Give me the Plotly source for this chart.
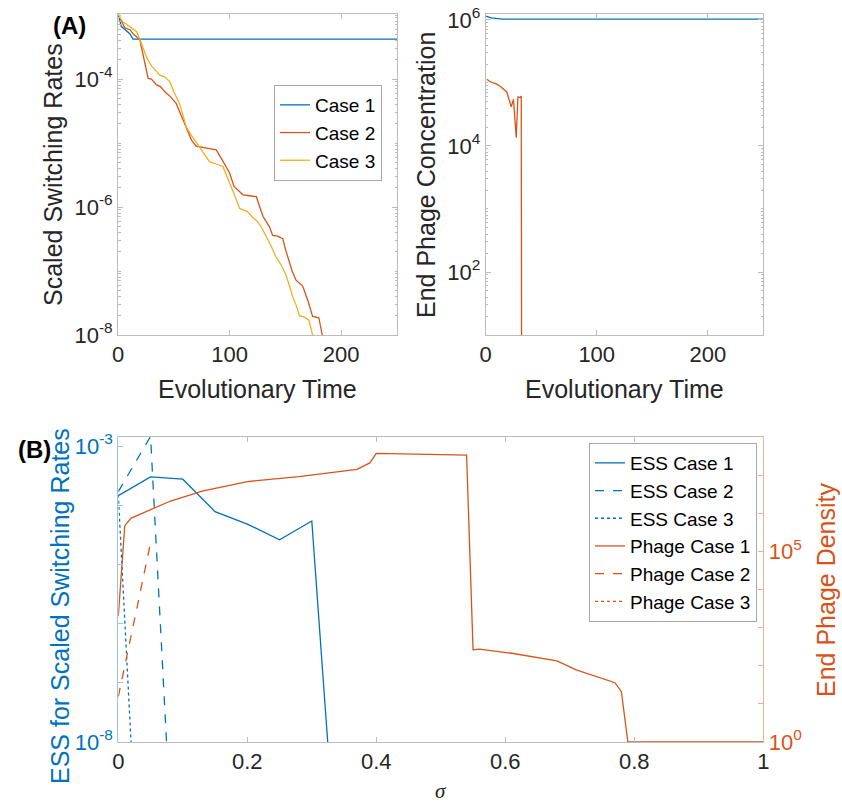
import plotly.graph_objects as go

W, H = 842, 807

# ---------------- Panel (A) left: scaled switching rates ----------------
t_case1 = [0, 3, 6, 10.5, 13.5, 250]
rate_case1 = [1.05e-3, 6.6e-4, 6.0e-4, 5.1e-4, 4.2e-4, 4.2e-4]

t_case2 = [0, 3, 6, 10.7, 14, 19.6, 22, 25, 27, 30, 34.5, 38, 42, 46, 52, 57, 61, 66,
           70, 73, 80, 88, 93, 100, 104, 108, 112, 118, 124, 127, 130, 135.7, 138.6,
           143, 147.6, 150, 153.6, 156, 159.5, 163, 165.5, 170, 174.4, 180, 183, 185]
rate_case2 = [1.05e-3, 7.9e-4, 6.3e-4, 5.9e-4, 5.0e-4, 4.1e-4, 2.5e-4, 1.4e-4, 1.02e-4,
              1.0e-4, 8.1e-5, 7.6e-5, 6.3e-5, 5.5e-5, 4.2e-5, 2.6e-5, 1.8e-5, 1.1e-5,
              8.9e-6, 8.7e-6, 8.3e-6, 7.8e-6, 5.6e-6, 3.4e-6, 2.1e-6, 1.8e-6, 1.55e-6,
              1.5e-6, 1.45e-6, 1.0e-6, 7.1e-7, 4.9e-7, 3.6e-7, 3.5e-7, 3.2e-7, 2.2e-7,
              1.3e-7, 1.0e-7, 7.2e-8, 6.3e-8, 5.8e-8, 3.5e-8, 1.95e-8, 1.86e-8, 1.0e-8, 7.9e-9]

t_case3 = [0, 4, 8, 12, 16.7, 20, 25.6, 30, 37.5, 42, 46.4, 50, 55, 58, 61, 66, 73, 78,
           82, 88, 94, 97, 100, 104, 109, 116, 120, 125, 128, 132.7, 137, 141.6, 146,
           150.6, 153, 156.5, 160, 162.5, 167, 171, 174.4, 176]
rate_case3 = [1.05e-3, 7.9e-4, 7.1e-4, 6.3e-4, 5.5e-4, 4.0e-4, 2.2e-4, 1.6e-4, 1.15e-4,
              1.07e-4, 9.1e-5, 6.3e-5, 4.2e-5, 2.8e-5, 1.8e-5, 1.3e-5, 8.7e-6, 6.3e-6,
              5.1e-6, 4.7e-6, 4.3e-6, 3.2e-6, 2.3e-6, 1.6e-6, 9.5e-7, 8.5e-7, 7.1e-7,
              5.9e-7, 5.0e-7, 3.5e-7, 2.5e-7, 1.66e-7, 1.26e-7, 8.7e-8, 6.3e-8, 4.0e-8,
              2.8e-8, 2.0e-8, 1.9e-8, 1.7e-8, 1.0e-8, 7.9e-9]

# ---------------- Panel (A) right: end phage concentration ----------------
t_phage1 = [0, 5, 15, 250]
phage_case1 = [1.15e6, 1.08e6, 1.03e6, 1.03e6]
t_phage2 = [1, 4, 7, 10, 13, 16, 19, 23, 25, 27.5, 29, 31, 32, 32.6]
phage_case2 = [1.15e5, 1.05e5, 1.0e5, 9.6e4, 8.9e4, 8.0e4, 7.2e4, 4.2e4, 5.5e4, 1.35e4,
               6.0e4, 5.9e4, 6.2e4, 1e-3]

# ---------------- Panel (B) ----------------
sigma_ess1 = [0, 0.05, 0.1, 0.15, 0.2, 0.25, 0.3, 0.325]
ess_case1 = [1.45e-4, 3.0e-4, 2.75e-4, 7.8e-5, 4.8e-5, 2.6e-5, 5.4e-5, 8.9e-9]
sigma_ess2 = [0, 0.05, 0.075]
ess_case2 = [1.7e-4, 1.45e-3, 8.9e-9]
sigma_ess3 = [0, 0.02]
ess_case3 = [1.5e-4, 8.9e-9]

sigma_ph1 = [0, 0.01, 0.02, 0.05, 0.08, 0.13, 0.2, 0.28, 0.37, 0.39, 0.40, 0.54, 0.55,
             0.56, 0.61, 0.68, 0.71, 0.77, 0.78, 0.79, 1.0]
dens_case1 = [2.0e3, 4.8e5, 7.6e5, 1.26e6, 2.1e6, 3.9e6, 6.9e6, 9.3e6, 1.45e7, 2.14e7,
              3.8e7, 3.4e7, 263, 275, 214, 135, 78, 36, 21, 1, 1]
sigma_ph2 = [0, 0.05]
dens_case2 = [15.5, 1.7e5]
sigma_ph3 = [0]
dens_case3 = [1]

# tick labels
ticks_A_left = [1e-8, 1e-6, 1e-4]
ticktext_A_left = ["10<sup>-8</sup>", "10<sup>-6</sup>", "10<sup>-4</sup>"]
ticks_A_right = [1e2, 1e4, 1e6]
ticktext_A_right = ["10<sup>2</sup>", "10<sup>4</sup>", "10<sup>6</sup>"]
ticks_B_left = [1e-8, 1e-3]
ticktext_B_left = ["10<sup>-8</sup>", "10<sup>-3</sup>"]
ticks_B_right = [1e0, 1e5]
ticktext_B_right = ["10<sup>0</sup>", "10<sup>5</sup>"]
ticks_x_A = [0, 100, 200]
ticks_x_B = [0, 0.2, 0.4, 0.6, 0.8, 1]
ticktext_x_B = ["0", "0.2", "0.4", "0.6", "0.8", "1"]

BLUE = "#0072BD"
ORANGE = "#D95319"
YELLOW = "#EDB120"
TXT = "#262626"
AX = "#bcbcbc"
FONT = "Liberation Sans, Arial, sans-serif"


def px_x(x):
    return x / W


def px_y(y):
    return 1 - y / H


fig = go.Figure()
LW = 1.3
fig.add_trace(go.Scatter(x=t_case1, y=rate_case1, mode="lines", name="Case 1",
                         line=dict(color=BLUE, width=LW), xaxis="x", yaxis="y"))
fig.add_trace(go.Scatter(x=t_case2, y=rate_case2, mode="lines", name="Case 2",
                         line=dict(color=ORANGE, width=LW), xaxis="x", yaxis="y"))
fig.add_trace(go.Scatter(x=t_case3, y=rate_case3, mode="lines", name="Case 3",
                         line=dict(color=YELLOW, width=LW), xaxis="x", yaxis="y"))

fig.add_trace(go.Scatter(x=t_phage1, y=phage_case1, mode="lines", showlegend=False,
                         line=dict(color=BLUE, width=LW), xaxis="x2", yaxis="y2"))
fig.add_trace(go.Scatter(x=t_phage2, y=phage_case2, mode="lines", showlegend=False,
                         line=dict(color=ORANGE, width=LW), xaxis="x2", yaxis="y2"))

fig.add_trace(go.Scatter(x=sigma_ess1, y=ess_case1, mode="lines", name="ESS Case 1",
                         line=dict(color=BLUE, width=LW), xaxis="x3", yaxis="y3", legend="legend2"))
fig.add_trace(go.Scatter(x=sigma_ess2, y=ess_case2, mode="lines", name="ESS Case 2",
                         line=dict(color=BLUE, width=LW, dash="dash"), xaxis="x3", yaxis="y3", legend="legend2"))
fig.add_trace(go.Scatter(x=sigma_ess3, y=ess_case3, mode="lines", name="ESS Case 3",
                         line=dict(color=BLUE, width=LW, dash="dot"), xaxis="x3", yaxis="y3", legend="legend2"))
fig.add_trace(go.Scatter(x=sigma_ph1, y=dens_case1, mode="lines", name="Phage Case 1",
                         line=dict(color=ORANGE, width=LW), xaxis="x3", yaxis="y4", legend="legend2"))
fig.add_trace(go.Scatter(x=sigma_ph2, y=dens_case2, mode="lines", name="Phage Case 2",
                         line=dict(color=ORANGE, width=LW, dash="dash"), xaxis="x3", yaxis="y4", legend="legend2"))
fig.add_trace(go.Scatter(x=sigma_ph3, y=dens_case3, mode="lines", name="Phage Case 3",
                         line=dict(color=ORANGE, width=LW, dash="dot"), xaxis="x3", yaxis="y4", legend="legend2"))

tickfont = dict(family=FONT, size=22, color=TXT)
common = dict(showgrid=False, zeroline=False, showline=True, linecolor=AX, linewidth=1,
              ticks="inside", ticklen=5, tickcolor=AX, automargin=False, tickfont=tickfont)
minor_log = dict(ticks="inside", ticklen=2.5, tickcolor=AX, dtick="D1", showgrid=False)

xA_left = (118, 397)
xA_right = (485.7, 763.3)
yA = (14, 335)
xB = (118.3, 763.3)
yB = (437, 742)

BL = "#9cc3e3"
OL = "#efb296"

fig.update_layout(
    width=W, height=H, margin=dict(l=0, r=0, t=0, b=0),
    paper_bgcolor="white", plot_bgcolor="white",
    font=dict(family=FONT, color=TXT),
    xaxis=dict(domain=[px_x(xA_left[0]), px_x(xA_left[1])], range=[0, 250], anchor="y",
               tickvals=ticks_x_A, mirror="ticks", **common),
    yaxis=dict(domain=[px_y(yA[1]), px_y(yA[0])], type="log", range=[-8, -2.984], anchor="x",
               tickvals=ticks_A_left, ticktext=ticktext_A_left, mirror="ticks",
               minor=minor_log, **common),
    xaxis2=dict(domain=[px_x(xA_right[0]), px_x(xA_right[1])], range=[0, 250], anchor="y2",
                tickvals=ticks_x_A, mirror="ticks", **common),
    yaxis2=dict(domain=[px_y(yA[1]), px_y(yA[0])], type="log", range=[1, 6.095], anchor="x2",
                tickvals=ticks_A_right, ticktext=ticktext_A_right, mirror="ticks",
                minor=minor_log, **common),
    xaxis3=dict(domain=[px_x(xB[0]), px_x(xB[1])], range=[0, 1], anchor="y3",
                tickvals=ticks_x_B, ticktext=ticktext_x_B, mirror="ticks", **common),
    yaxis3=dict(domain=[px_y(yB[1]), px_y(yB[0])], type="log", range=[-8, -2.848], anchor="x3",
                tickvals=ticks_B_left, ticktext=ticktext_B_left,
                minor=dict(ticks="inside", ticklen=5, tickcolor=BL, dtick=1, showgrid=False),
                **{**common, "linecolor": BL, "tickcolor": BL,
                   "tickfont": dict(family=FONT, size=22, color=BLUE)}),
    yaxis4=dict(domain=[px_y(yB[1]), px_y(yB[0])], type="log", range=[0, 8.01], anchor="x3",
                overlaying="y3", side="right",
                tickvals=ticks_B_right, ticktext=ticktext_B_right,
                minor=dict(ticks="inside", ticklen=5, tickcolor=OL, dtick=1, showgrid=False),
                **{**common, "linecolor": OL, "tickcolor": OL,
                   "tickfont": dict(family=FONT, size=22, color=ORANGE)}),
    legend=dict(x=px_x(382), y=px_y(85), xanchor="right", yanchor="top",
                bgcolor="white", bordercolor="#a8a8a8", borderwidth=1,
                font=dict(family=FONT, size=19, color="#000000")),
    legend2=dict(x=px_x(757), y=px_y(443), xanchor="right", yanchor="top",
                 bgcolor="white", bordercolor="#a8a8a8", borderwidth=1,
                 font=dict(family=FONT, size=19, color="#000000")),
)

ann = []
def add_text(text, x, y, size, color=TXT, angle=0, bold=False, family=FONT):
    ann.append(dict(text=f"<b>{text}</b>" if bold else text, x=px_x(x), y=px_y(y),
                    xref="paper", yref="paper", xanchor="center", yanchor="middle",
                    showarrow=False, textangle=angle,
                    font=dict(family=family, size=size, color=color)))

add_text("(A)", 69, 25, 24, color="#000000", bold=True)
add_text("(B)", 34, 449, 24, color="#000000", bold=True)
add_text("Scaled Switching Rates", 53, 175, 25, angle=-90)
add_text("End Phage Concentration", 426, 175, 25, angle=-90)
add_text("Evolutionary Time", 257.5, 389, 25)
add_text("Evolutionary Time", 624.5, 389, 25)
add_text("ESS for Scaled Switching Rates", 60, 606, 25, color=BLUE, angle=-90)
add_text("End Phage Density", 826, 590, 25, color=ORANGE, angle=-90)
add_text("<i>σ</i>", 441, 791, 21, family="Liberation Serif, serif")
fig.update_layout(annotations=ann)

fig.write_html("out.html", config={"displayModeBar": False},
               post_script="document.body.style.margin='0px';")
